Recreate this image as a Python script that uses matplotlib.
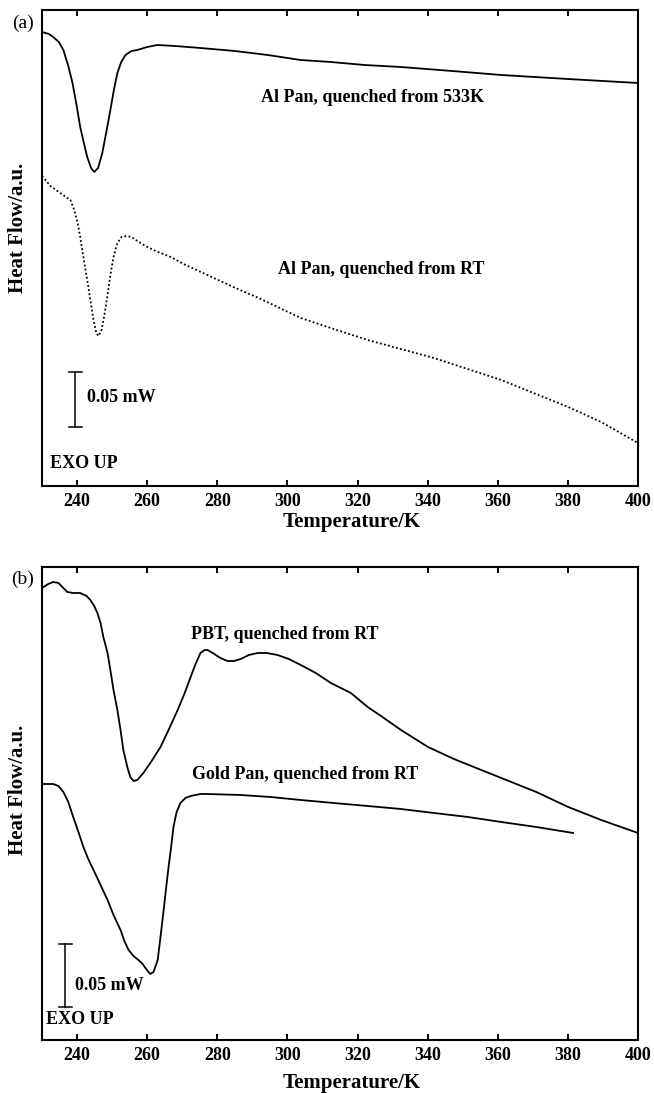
import matplotlib
matplotlib.use("Agg")
import matplotlib.pyplot as plt
import numpy as np

plt.rcParams['font.family'] = ['Liberation Serif', 'DejaVu Serif']
plt.rcParams['font.weight'] = 'bold'

# ---- panel (a): Al pans, heat flow in a.u. ----
t_a533 = [230.0, 232.0, 233.2, 234.8, 236.1, 237.5, 238.7, 239.8, 240.9, 242.0,
          242.9, 244.0, 244.9, 246.0, 247.2, 248.4, 249.5, 250.5, 251.5, 252.6,
          253.8, 255.5, 257.2, 260.0, 262.9, 268.0, 275.2, 285.0, 294.4, 303.8,
          312.4, 322.0, 332.4, 347.0, 361.0, 380.0, 390.0, 400.0]
hf_a533 = [454, 452, 449, 444, 436, 420, 403, 382, 359, 342,
           329, 318, 314, 318, 333, 355, 376, 396, 413, 424,
           431, 435, 436, 439, 441, 440, 438, 435, 431, 426,
           424, 421, 419, 415, 411, 407, 405, 403]

t_art = [230.0, 232.4, 235.2, 238.1, 239.2, 240.1, 240.9, 241.8, 242.9, 243.8,
         244.7, 245.5, 246.1, 247.0, 247.8, 248.7, 249.5, 250.4, 251.5, 252.7,
         254.1, 255.5, 257.2, 259.5, 262.4, 266.7, 270.4, 274.7, 279.0, 285.2,
         291.8, 303.8, 313.2, 322.9, 341.8, 361.0, 380.1, 389.5, 400.0]
hf_art = [310, 300, 293, 286, 276, 264, 249, 229, 206, 186,
          166, 153, 150, 156, 171, 191, 211, 229, 243, 249,
          250, 249, 245, 240, 235, 229, 222, 215, 208, 198,
          188, 168, 157, 146, 128, 106, 79, 64, 43]

# ---- panel (b): PBT and gold pan ----
t_pbt = [230.0, 231.8, 233.2, 234.7, 235.8, 237.2, 238.9, 240.9, 242.7, 243.8,
         244.9, 245.8, 246.7, 247.5, 248.7, 249.5, 250.4, 251.5, 252.4, 253.2,
         254.4, 255.2, 256.1, 257.2, 258.9, 260.9, 263.8, 266.1, 268.7, 270.7,
         272.4, 273.8, 275.2, 276.4, 277.2, 278.7, 280.9, 282.9, 284.7, 286.7,
         289.0, 291.5, 294.1, 297.2, 300.4, 303.8, 308.1, 312.4, 318.1, 322.9,
         326.7, 332.4, 340.1, 347.5, 361.0, 371.0, 380.1, 389.5, 400.0]
hf_pbt = [452, 456, 458, 457, 453, 448, 447, 447, 444, 440,
          434, 427, 417, 403, 387, 370, 350, 330, 310, 290,
          272, 263, 259, 260, 267, 277, 293, 310, 330, 347,
          363, 376, 387, 390, 390, 387, 382, 379, 379, 381,
          385, 387, 387, 385, 381, 375, 367, 357, 347, 333,
          324, 310, 293, 281, 262, 248, 233, 220, 207]

t_gold = [230.0, 233.2, 234.7, 236.1, 237.5, 238.9, 240.4, 241.8, 243.2, 244.7,
          246.7, 248.7, 250.4, 252.4, 253.5, 254.7, 256.1, 257.5, 258.7, 259.5,
          260.4, 260.9, 261.8, 263.0, 263.8, 264.7, 265.5, 266.1, 266.9, 267.5,
          268.4, 269.5, 270.9, 272.4, 275.2, 277.2, 286.7, 295.2, 303.8, 313.2,
          322.9, 332.4, 341.8, 351.5, 361.0, 371.0, 381.5]
hf_gold = [256, 256, 254, 248, 238, 223, 208, 193, 181, 170,
           155, 140, 125, 110, 99, 90, 84, 80, 76, 72,
           68, 66, 68, 80, 103, 130, 155, 173, 195, 213,
           228, 237, 242, 244, 246, 246, 245, 243, 240, 237,
           234, 231, 227, 223, 218, 213, 207]

xticks = [240, 260, 280, 300, 320, 340, 360, 380, 400]

W, H = 654, 1093
fig = plt.figure(figsize=(W / 100, H / 100), dpi=100)


def px_rect(left, top, right, bottom):
    return [left / W, 1 - bottom / H, (right - left) / W, (bottom - top) / H]


def style(ax, ymax):
    ax.set_xlim(230, 400)
    ax.set_ylim(0, ymax)
    ax.set_xticks(xticks)
    ax.set_yticks([])
    ax.tick_params(axis='x', direction='in', top=True, length=4.5, width=1.4,
                   labelsize=13, pad=5)
    for lab in ax.get_xticklabels():
        lab.set_fontweight('bold')
    for s in ax.spines.values():
        s.set_linewidth(1.5)


def scale_bar(ax, x, y0, y1, tx, ty):
    ax.plot([x, x], [y0, y1], color='black', lw=1.1)
    ax.plot([x - 1.9, x + 1.9], [y0, y0], color='black', lw=1.1)
    ax.plot([x - 1.9, x + 1.9], [y1, y1], color='black', lw=1.1)
    ax.text(tx, ty, '0.05 mW', fontsize=13, fontweight='bold', ha='left', va='center')


# panel (a)
ax1 = fig.add_axes(px_rect(42, 10, 638, 486))
ax1.plot(t_a533, hf_a533, color='black', lw=1.3)
ax1.plot(t_art, hf_art, color='black', lw=1.3, linestyle=(0, (1, 1.3)))
ax1.text(356.1, 388, 'Al Pan, quenched from 533K', fontsize=13, fontweight='bold',
         ha='right', va='center')
ax1.text(356.1, 216, 'Al Pan, quenched from RT', fontsize=13, fontweight='bold',
         ha='right', va='center')
scale_bar(ax1, 239.5, 59, 114, 242.7, 89)
ax1.text(232.4, 23, 'EXO UP', fontsize=13, fontweight='bold', ha='left', va='center')
style(ax1, 476)

# panel (b)
ax2 = fig.add_axes(px_rect(42, 567, 638, 1040))
ax2.plot(t_pbt, hf_pbt, color='black', lw=1.3)
ax2.plot(t_gold, hf_gold, color='black', lw=1.3)
ax2.text(326.1, 405, 'PBT, quenched from RT', fontsize=13, fontweight='bold',
         ha='right', va='center')
ax2.text(337.2, 265, 'Gold Pan, quenched from RT', fontsize=13, fontweight='bold',
         ha='right', va='center')
scale_bar(ax2, 236.7, 33, 96, 239.5, 55)
ax2.text(231.2, 20, 'EXO UP', fontsize=13, fontweight='bold', ha='left', va='center')
style(ax2, 473)

# axis labels and panel letters
fig.text(352 / W, 1 - 522 / H, 'Temperature/K', fontsize=15, fontweight='bold',
         ha='center', va='center')
fig.text(352 / W, 1 - 1083 / H, 'Temperature/K', fontsize=15, fontweight='bold',
         ha='center', va='center')
fig.text(18 / W, 1 - 228 / H, 'Heat Flow/a.u.', fontsize=15, fontweight='bold',
         rotation=90, ha='center', va='center')
fig.text(18 / W, 1 - 790 / H, 'Heat Flow/a.u.', fontsize=15, fontweight='bold',
         rotation=90, ha='center', va='center')
fig.text(23 / W, 1 - 23 / H, '(a)', fontsize=14, fontweight='normal',
         ha='center', va='center')
fig.text(23 / W, 1 - 579 / H, '(b)', fontsize=14, fontweight='normal',
         ha='center', va='center')

fig.savefig('out.png', dpi=100)
